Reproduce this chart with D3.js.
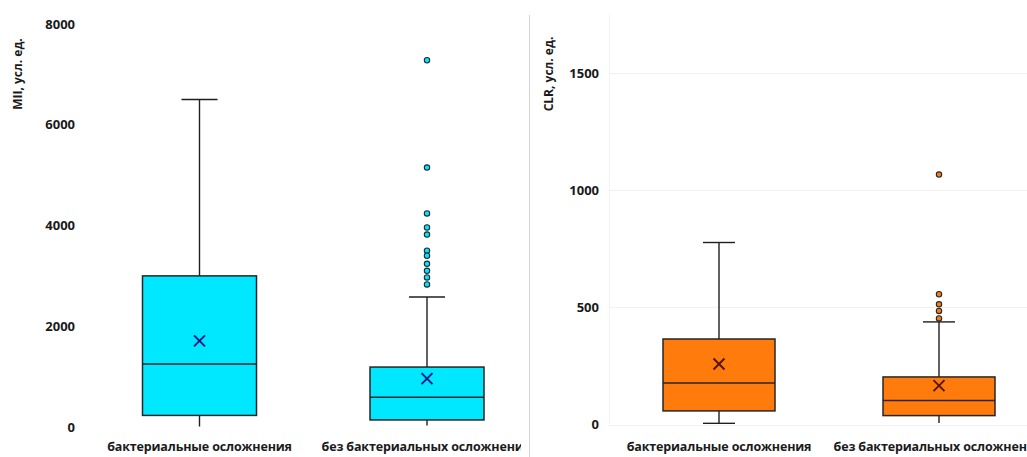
<!DOCTYPE html>
<html>
<head>
<meta charset="utf-8">
<script src="https://cdn.jsdelivr.net/npm/d3@7"></script>
<style>
  html, body { margin: 0; padding: 0; background: #fff; }
  svg { display: block; }
  text { font-family: "Open Sans", "Noto Sans", sans-serif; fill: #1a1a1a; }
</style>
</head>
<body>
<svg id="chart" width="1027" height="457"></svg>
<script>
// Groups shared by both panels
const groups = ["бактериальные осложнения", "без бактериальных осложнений"];

// MII (left panel): five-number summaries, means, outliers
const miiMin    = [10, 30];
const miiQ1     = [230, 140];
const miiMedian = [1250, 590];
const miiQ3     = [3000, 1190];
const miiMax    = [6500, 2580];
const miiMean   = [1710, 960];
const miiOutliers = [[], [7280, 5150, 4240, 3960, 3820, 3500, 3400, 3240, 3100, 2970, 2830]];
const miiTicks  = [0, 2000, 4000, 6000, 8000];

// CLR (right panel)
const clrMin    = [5, 6];
const clrQ1     = [58, 38];
const clrMedian = [177, 102];
const clrQ3     = [365, 203];
const clrMax    = [777, 438];
const clrMean   = [258, 166];
const clrOutliers = [[], [1067, 556, 513, 485, 453]];
const clrTicks  = [0, 500, 1000, 1500];

const svg = d3.select("#chart");
const defs = svg.append("defs");

function drawPanel(cfg) {
  const clipId = "clip-" + cfg.id;
  defs.append("clipPath").attr("id", clipId)
    .append("rect").attr("x", cfg.clip[0]).attr("y", 0)
    .attr("width", cfg.clip[1] - cfg.clip[0]).attr("height", 457);

  const g = svg.append("g").attr("clip-path", `url(#${clipId})`);

  const x = d3.scaleBand().domain(groups).range(cfg.xRange).paddingInner(0).paddingOuter(0);
  const y = d3.scaleLinear().domain(cfg.yDomain).range(cfg.yRange);

  // gridlines
  if (cfg.grid) {
    g.append("g").selectAll("line").data(cfg.ticks).join("line")
      .attr("x1", cfg.xRange[0]).attr("x2", cfg.xRange[1])
      .attr("y1", d => Math.round(y(d)) + 0.5).attr("y2", d => Math.round(y(d)) + 0.5)
      .attr("stroke", "#f0f0f0").attr("stroke-width", 1);
    g.append("line")
      .attr("x1", cfg.xRange[0] + 0.5).attr("x2", cfg.xRange[0] + 0.5)
      .attr("y1", y(cfg.yDomain[1])).attr("y2", y(0))
      .attr("stroke", "#f3f3f3");
  }

  // y axis labels
  const yAxis = d3.axisLeft(y).tickValues(cfg.ticks).tickSize(0).tickPadding(0).tickFormat(d3.format("d"));
  const ya = g.append("g").attr("transform", `translate(${cfg.tickX},0)`).call(yAxis);
  ya.select(".domain").remove();
  ya.selectAll("text").attr("font-size", 13).attr("font-weight", 700)
    .attr("font-family", "'Open Sans', sans-serif").attr("fill", "#1a1a1a");

  // y axis title
  g.append("text")
    .attr("transform", `translate(${cfg.titleX},${cfg.titleY}) rotate(-90)`)
    .attr("text-anchor", "middle").attr("dy", "0.35em")
    .attr("font-size", 12).attr("font-weight", 700)
    .text(cfg.title);

  // x labels
  const xAxis = d3.axisBottom(x).tickSize(0).tickPadding(0);
  const xa = g.append("g").attr("transform", `translate(0,${cfg.xLabelY})`).call(xAxis);
  xa.select(".domain").remove();
  xa.selectAll("text").attr("font-size", 12.5).attr("font-weight", 700)
    .attr("letter-spacing", "-0.15px")
    .attr("font-family", "'Open Sans', sans-serif").attr("fill", "#1a1a1a");

  const boxW = cfg.boxW;
  const capW = cfg.capW;

  groups.forEach((grp, i) => {
    const cx = x(grp) + x.bandwidth() / 2;
    const bg = g.append("g");

    // whiskers
    bg.append("line").attr("x1", cx).attr("x2", cx)
      .attr("y1", y(cfg.q3[i])).attr("y2", y(cfg.max[i]))
      .attr("stroke", "#1f1f1f").attr("stroke-width", 1.4);
    bg.append("line").attr("x1", cx - capW / 2).attr("x2", cx + capW / 2)
      .attr("y1", y(cfg.max[i])).attr("y2", y(cfg.max[i]))
      .attr("stroke", "#1f1f1f").attr("stroke-width", 1.4);
    bg.append("line").attr("x1", cx).attr("x2", cx)
      .attr("y1", y(cfg.q1[i])).attr("y2", y(cfg.min[i]))
      .attr("stroke", "#1f1f1f").attr("stroke-width", 1.4);
    if (cfg.lowCaps.includes(i)) {
      bg.append("line").attr("x1", cx - capW / 2).attr("x2", cx + capW / 2)
        .attr("y1", y(cfg.min[i])).attr("y2", y(cfg.min[i]))
        .attr("stroke", "#1f1f1f").attr("stroke-width", 1.4);
    }

    // box
    bg.append("rect")
      .attr("x", cx - boxW / 2).attr("width", boxW)
      .attr("y", y(cfg.q3[i])).attr("height", y(cfg.q1[i]) - y(cfg.q3[i]))
      .attr("fill", cfg.color).attr("stroke", "#262626").attr("stroke-width", 1.5);
    bg.append("line").attr("x1", cx - boxW / 2).attr("x2", cx + boxW / 2)
      .attr("y1", y(cfg.median[i])).attr("y2", y(cfg.median[i]))
      .attr("stroke", "#262626").attr("stroke-width", 1.5);

    // mean marker
    const my = y(cfg.mean[i]), s = 5.5;
    bg.append("path")
      .attr("d", `M${cx - s},${my - s}L${cx + s},${my + s}M${cx - s},${my + s}L${cx + s},${my - s}`)
      .attr("stroke", cfg.meanColor).attr("stroke-width", 2).attr("fill", "none");

    // outliers
    bg.selectAll("circle").data(cfg.outliers[i]).join("circle")
      .attr("cx", cx).attr("cy", d => y(d)).attr("r", 2.7)
      .attr("fill", cfg.color).attr("stroke", "#1f2a33").attr("stroke-width", 1.1);
  });
}

drawPanel({
  id: "mii", title: "MII, усл. ед.",
  clip: [0, 521],
  xRange: [85.75, 540.75], yDomain: [0, 8000], yRange: [427, 24],
  ticks: miiTicks, grid: false,
  tickX: 75, titleX: 18, titleY: 74, xLabelY: 442.5,
  boxW: 114, capW: 36,
  min: miiMin, q1: miiQ1, median: miiMedian, q3: miiQ3, max: miiMax, mean: miiMean,
  outliers: miiOutliers, lowCaps: [],
  color: "#00E8FF", meanColor: "#0a1a8a"
});

// panel divider
svg.append("line").attr("x1", 529.5).attr("x2", 529.5).attr("y1", 15).attr("y2", 457)
  .attr("stroke", "#d4d4d4").attr("stroke-width", 1);

drawPanel({
  id: "clr", title: "CLR, усл. ед.",
  clip: [531, 1027],
  xRange: [609, 1049], yDomain: [0, 1750], yRange: [424.5, 14.6],
  ticks: clrTicks, grid: true,
  tickX: 599, titleX: 549, titleY: 74, xLabelY: 442.5,
  boxW: 112, capW: 32,
  min: clrMin, q1: clrQ1, median: clrMedian, q3: clrQ3, max: clrMax, mean: clrMean,
  outliers: clrOutliers, lowCaps: [0],
  color: "#FF7C0C", meanColor: "#5a1500"
});
</script>
</body>
</html>
